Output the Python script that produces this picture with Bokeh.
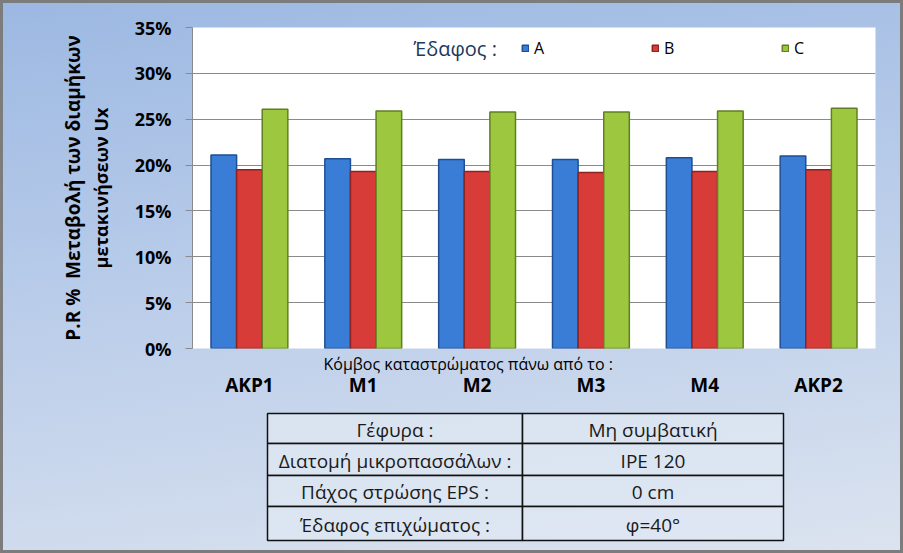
from bokeh.plotting import figure
from bokeh.models import (FactorRange, Range1d, Legend, LegendItem, Label, Title,
                          CategoricalAxis, SingleIntervalTicker, PrintfTickFormatter,
                          ColumnDataSource)
from bokeh.layouts import column
from bokeh.transform import dodge
from bokeh.core.properties import value
from bokeh.embed import file_html
from bokeh.resources import INLINE

# ---------------- data ----------------
nodes = ["ΑΚΡ1", "Μ1", "Μ2", "Μ3", "Μ4", "ΑΚΡ2"]
soil_A = [21.1, 20.7, 20.6, 20.6, 20.8, 21.0]
soil_B = [19.5, 19.3, 19.3, 19.2, 19.3, 19.5]
soil_C = [26.1, 25.9, 25.8, 25.8, 25.9, 26.2]
series_names = ["A", "B", "C"]
y_max = 35
y_step = 5

y_title_1 = "P.R %\u00a0\u00a0Μεταβολή των διαμήκων"
y_title_2 = "μετακινήσεων Ux"
x_title = "Κόμβος καταστρώματος πάνω από το :"
legend_title = "Έδαφος :"

table_labels = ["Γέφυρα :", "Διατομή μικροπασσάλων :", "Πάχος στρώσης EPS :", "Έδαφος επιχώματος :"]
table_values = ["Μη συμβατική", "IPE 120", "0 cm", "φ=40°"]

# ---------------- style ----------------
FONT = "Open Sans"
fills = ["#3a7dd6", "#d83c39", "#9cc73e"]
edges = ["#1f4f92", "#8e2220", "#5f7f22"]
GRID = "#8a8a8a"

W, H1, H2 = 897, 397, 150
ML, MR = 189, 25
TOP1 = 3            # page y of the main figure's top
TOP2 = TOP1 + H1    # page y of the table figure's top

src = ColumnDataSource(dict(node=nodes, A=soil_A, B=soil_B, C=soil_C))

p = figure(x_range=FactorRange(factors=nodes, range_padding=0),
           y_range=Range1d(0, y_max), x_axis_location=None,
           width=W, height=H1, output_backend="svg", toolbar_location=None,
           min_border_left=ML, min_border_right=MR, min_border_top=24,
           min_border_bottom=51)
p.background_fill_color = "white"
p.border_fill_color = None
p.outline_line_color = None

bw = 0.225
offsets = [-bw, 0.0, bw]
renderers = []
for name, off, fc, lc in zip(series_names, offsets, fills, edges):
    r = p.vbar(x=dodge("node", off, range=p.x_range), top=name, width=bw,
               source=src, fill_color=fc, line_color=lc, line_width=1.5)
    renderers.append(r)

# y axis
p.yaxis.ticker = SingleIntervalTicker(interval=y_step)
p.yaxis.formatter = PrintfTickFormatter(format="%d%%")
p.yaxis.major_label_text_font = FONT
p.yaxis.major_label_text_font_style = "bold"
p.yaxis.major_label_text_font_size = "18px"
p.yaxis.major_label_text_color = "black"
p.yaxis.major_label_standoff = 14
p.yaxis.major_tick_out = 7
p.yaxis.major_tick_in = 0
p.yaxis.minor_tick_out = 0
p.yaxis.minor_tick_in = 0
p.yaxis.axis_line_color = GRID
p.yaxis.major_tick_line_color = GRID
p.yaxis.axis_label = y_title_2
p.yaxis.axis_label_text_font = FONT
p.yaxis.axis_label_text_font_style = "bold"
p.yaxis.axis_label_text_font_size = "18px"
p.yaxis.axis_label_text_color = "black"
p.yaxis.axis_label_standoff = 19

p.add_layout(Title(text=y_title_1, align="center", standoff=0, text_font=FONT,
                   text_font_size="19px", text_font_style="bold", text_color="black"),
             "left")

# x axis: title between frame and category labels
p.add_layout(Title(text=x_title, align="left", offset=131, standoff=5, text_font=FONT,
                   text_font_size="16px", text_font_style="normal", text_color="black"),
             "below")
xax = CategoricalAxis(major_label_text_font=FONT, major_label_text_font_style="bold",
                      major_label_text_font_size="19px", major_label_text_color="black",
                      major_label_standoff=-6, major_tick_out=0, major_tick_in=0,
                      axis_line_color=None, major_tick_line_color=None)
p.add_layout(xax, "below")

p.xgrid.grid_line_color = None
p.ygrid.grid_line_color = GRID
p.ygrid.grid_line_width = 1

# legend
legend = Legend(items=[LegendItem(label=n, renderers=[r]) for n, r in zip(series_names, renderers)],
                orientation="horizontal", location=(329, 289),
                padding=0, margin=0, spacing=12, label_width=105, label_height=16,
                glyph_width=8, glyph_height=8, label_standoff=5,
                background_fill_alpha=0, border_line_color=None,
                label_text_font=FONT, label_text_font_size="16px",
                label_text_color="black")
p.add_layout(legend)

p.add_layout(Label(x=221, y=300, x_units="screen", y_units="screen", text=legend_title,
                   text_font=FONT, text_font_size="20px", text_color="#22385e",
                   text_align="left", text_baseline="middle"))

# ---------------- table (page-pixel layout) ----------------
col_edges = [267, 522, 783]
row_edges = [413, 443, 475, 506, 540]
t = figure(width=W, height=H2, x_range=Range1d(192, 875), y_range=Range1d(TOP2 + H2, TOP2),
           output_backend="svg", toolbar_location=None,
           min_border_left=ML, min_border_right=MR, min_border_top=0, min_border_bottom=0,
           x_axis_location=None, y_axis_location=None)
t.grid.visible = False
t.outline_line_color = None
t.background_fill_color = None
t.border_fill_color = None

n = len(table_labels)
lefts, rights, tops, bottoms = [], [], [], []
for i in range(n):
    for j in range(2):
        lefts.append(col_edges[j]); rights.append(col_edges[j + 1])
        tops.append(row_edges[i]); bottoms.append(row_edges[i + 1])
t.quad(left=lefts, right=rights, top=tops, bottom=bottoms,
       fill_color="#dfe7f3", fill_alpha=0.8, line_color="#111111", line_width=1.5)

cx = [(col_edges[0] + col_edges[1]) / 2] * n + [(col_edges[1] + col_edges[2]) / 2] * n
cy = [(row_edges[i] + row_edges[i + 1]) / 2 + 1 for i in range(n)] * 2
t.text(x=cx, y=cy, text=table_labels + table_values, text_font=value(FONT),
       text_font_size="19px", text_color="#1a1a1a", text_align="center",
       text_baseline="middle")

layout = column(p, t, spacing=0,
                styles={"background": "linear-gradient(172deg, #9cb8e2 0%, #b6cae9 40%, #dbe3ef 100%)",
                        "border": "3px solid #7c7c7c"})

open("out.html", "w").write(file_html(layout, INLINE))
